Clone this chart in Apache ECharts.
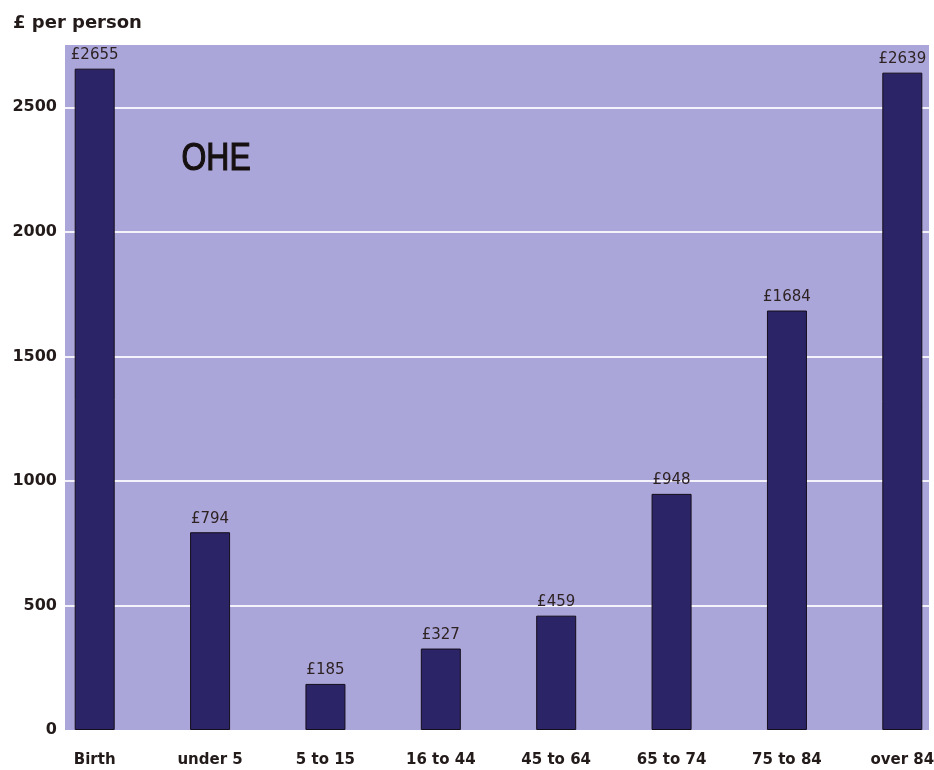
<!DOCTYPE html>
<html>
<head>
<meta charset="utf-8">
<script src="https://cdn.jsdelivr.net/npm/echarts@6/dist/echarts.min.js"></script>
<style>
html,body{margin:0;padding:0;background:#fff;}
#c{width:934px;height:770px;}
</style>
</head>
<body>
<div id="c"></div>
<script>
var categories = ['Birth', 'under 5', '5 to 15', '16 to 44', '45 to 64', '65 to 74', '75 to 84', 'over 84'];
var values = [2655, 794, 185, 327, 459, 948, 1684, 2639];
var yTitle = '£ per person';
var logoText = 'OHE';

var chart = echarts.init(document.getElementById('c'), null, {renderer: 'canvas'});
var font = '"DejaVu Sans", Verdana, sans-serif';
var option = {
  backgroundColor: '#ffffff',
  animation: false,
  title: {
    text: yTitle, left: 8, top: 9,
    textStyle: {fontFamily: font, fontSize: 18, fontWeight: 'bold', color: '#231a1a'}
  },
  graphic: [{
    type: 'text', left: 181, top: 140, scaleX: 0.84,
    style: {text: logoText, font: 'normal 38px "Liberation Sans", Arial, sans-serif', fill: '#161010',
            stroke: '#161010', lineWidth: 1.2}
  }],
  grid: [
    {left: 65, top: 45, right: 5, bottom: 40, show: true, backgroundColor: '#aaa6da', borderWidth: 0, outerBoundsMode: 'none'},
    {left: 37, top: 45, width: 923, bottom: 40, outerBoundsMode: 'none'}
  ],
  xAxis: [
    {gridIndex: 0, type: 'category', data: categories, show: false},
    {gridIndex: 1, type: 'category', data: categories,
     axisLine: {show: false}, axisTick: {show: false},
     axisLabel: {margin: 23, fontFamily: font, fontSize: 15, fontWeight: 'bold', color: '#231a1a'}}
  ],
  yAxis: [
    {gridIndex: 0, type: 'value', min: 0, max: 2750, interval: 500,
     axisLine: {show: false}, axisTick: {show: false},
     axisLabel: {showMaxLabel: false, margin: 8, fontFamily: font, fontSize: 16, fontWeight: 'bold', color: '#231a1a',
                 formatter: function (v) { return String(v); }},
     splitLine: {show: true, showMaxLine: false, showMinLine: false, lineStyle: {color: '#f4f2fb', width: 2}}},
    {gridIndex: 1, type: 'value', min: 0, max: 2750, show: false, splitLine: {show: false}}
  ],
  series: [{
    type: 'bar', xAxisIndex: 1, yAxisIndex: 1, data: values, barWidth: 40,
    itemStyle: {color: '#2b2567', borderColor: '#150d1a', borderWidth: 1},
    label: {show: true, position: 'top', distance: 6, formatter: '£{c}',
            fontFamily: font, fontSize: 15, color: '#2e2222'}
  }]
};
chart.setOption(option);
</script>
</body>
</html>
